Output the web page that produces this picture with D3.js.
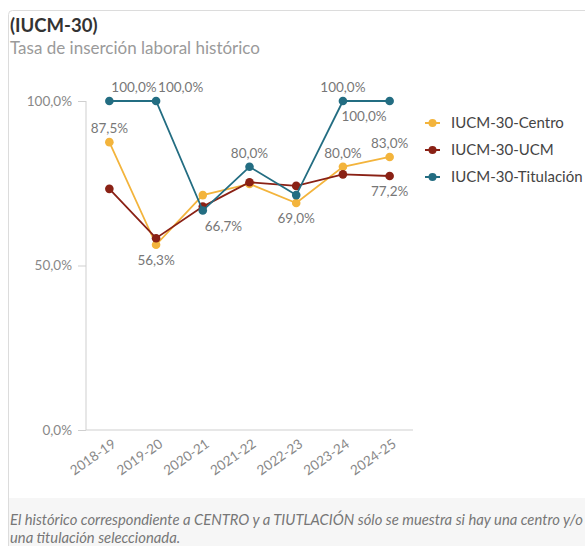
<!DOCTYPE html>
<html>
<head>
<meta charset="utf-8">
<script src="https://cdn.jsdelivr.net/npm/d3@7"></script>
<style>
  html, body { margin: 0; padding: 0; background: #fff; }
  svg { display: block; font-family: Lato, "Noto Sans", sans-serif; }
</style>
</head>
<body>
<svg id="chart" width="585" height="546"></svg>
<script>
// data
const years = ["2018-19", "2019-20", "2020-21", "2021-22", "2022-23", "2023-24", "2024-25"];
const centro = [87.5, 56.3, 71.4, 74.8, 69.0, 80.0, 83.0];
const ucm = [73.3, 58.3, 67.9, 75.3, 74.2, 77.7, 77.2];
const titulacion = [100, 100, 66.7, 80.0, 71.4, 100, 100];
const seriesNames = ["IUCM-30-Centro", "IUCM-30-UCM", "IUCM-30-Titulación"];
const yTicks = [0, 50, 100];

// which points carry a value label: [series, year index, side, anchor]
const valueLabels = [
  [0, 0, "above", "middle"],
  [2, 0, "above", "start"],
  [2, 1, "above", "start"],
  [0, 1, "below", "middle"],
  [2, 2, "below", "start"],
  [2, 3, "above", "middle"],
  [0, 4, "below", "middle"],
  [2, 5, "above", "middle"],
  [2, 6, "below", "end"],
  [0, 5, "above", "middle"],
  [0, 6, "above", "middle"],
  [1, 6, "below", "middle"]
];

const colors = ["#f3b43c", "#8a2115", "#236d82"];
const series = [centro, ucm, titulacion];

const svg = d3.select("#chart");

// card frame
svg.append("rect")
  .attr("x", 8.5).attr("y", 10.5)
  .attr("width", 600).attr("height", 560)
  .attr("rx", 4)
  .attr("fill", "#fff")
  .attr("stroke", "#dcdcdc");

// footer band
svg.append("rect")
  .attr("x", 9).attr("y", 498)
  .attr("width", 576).attr("height", 48)
  .attr("fill", "#f6f6f6");

// title
svg.append("text")
  .attr("x", 10).attr("y", 32)
  .attr("font-size", 18.5).attr("font-weight", 700)
  .attr("fill", "#333")
  .text("(IUCM-30)");

svg.append("text")
  .attr("x", 10).attr("y", 54)
  .attr("font-size", 17)
  .attr("fill", "#9a9a9a")
  .text("Tasa de inserción laboral histórico");

const x = d3.scalePoint().domain(years).range([86, 413]).padding(0.5);
const y = d3.scaleLinear().domain([0, 100]).range([430, 101]);

const fmt = (v) => d3.format(".1f")(v).replace(".", ",") + "%";

// y axis
const yAxis = svg.append("g")
  .attr("transform", "translate(86,0)")
  .call(d3.axisLeft(y).tickValues(yTicks).tickSize(8).tickPadding(6).tickFormat(fmt));
yAxis.select(".domain").attr("stroke", "#cfcfcf").attr("d", `M0,${y(100)}V${y(0)}`);
yAxis.selectAll(".tick line").attr("stroke", "#cfcfcf");
yAxis.selectAll(".tick text")
  .attr("fill", "#888").attr("font-size", 13.5).attr("font-family", "Lato, sans-serif");

// x axis
const xAxis = svg.append("g")
  .attr("transform", `translate(0,${y(0)})`)
  .call(d3.axisBottom(x).tickSize(0).tickPadding(0));
xAxis.select(".domain").attr("stroke", "#cfcfcf").attr("d", "M86,0H413");
xAxis.selectAll(".tick text")
  .attr("fill", "#888").attr("font-size", 13.5)
  .attr("font-family", "Lato, sans-serif")
  .attr("text-anchor", "end")
  .attr("dy", 0)
  .attr("transform", "translate(7,16) rotate(-35)");

// lines
const line = d3.line()
  .x((d, i) => x(years[i]))
  .y((d) => y(d));

series.forEach((values, s) => {
  svg.append("path")
    .datum(values)
    .attr("fill", "none")
    .attr("stroke", colors[s])
    .attr("stroke-width", 1.8)
    .attr("d", line);

  svg.selectAll(null)
    .data(values)
    .enter()
    .append("circle")
    .attr("cx", (d, i) => x(years[i]))
    .attr("cy", (d) => y(d))
    .attr("r", 4.3)
    .attr("fill", colors[s]);
});

// value labels
svg.append("g")
  .selectAll("text")
  .data(valueLabels)
  .enter()
  .append("text")
  .attr("x", (d) => x(years[d[1]]) + (d[3] === "start" ? 2 : d[3] === "end" ? -3 : 0))
  .attr("y", (d) => y(series[d[0]][d[1]]) + (d[2] === "above" ? -9 : 20))
  .attr("text-anchor", (d) => d[3])
  .attr("font-size", 13.5)
  .attr("fill", "#777")
  .text((d) => fmt(series[d[0]][d[1]]));

// legend
const legend = svg.append("g")
  .selectAll("g")
  .data(seriesNames)
  .enter()
  .append("g")
  .attr("transform", (d, i) => `translate(425,${123 + i * 27})`);

legend.append("line")
  .attr("x1", 0).attr("x2", 15)
  .attr("stroke", (d, i) => colors[i])
  .attr("stroke-width", 2);
legend.append("circle")
  .attr("cx", 7.5).attr("r", 4)
  .attr("fill", (d, i) => colors[i]);
legend.append("text")
  .attr("x", 26).attr("dy", "0.35em")
  .attr("font-size", 15)
  .attr("fill", "#444")
  .text((d) => d);

// footer note
const note = svg.append("text")
  .attr("font-size", 14.8)
  .attr("font-style", "italic")
  .attr("fill", "#777");
note.append("tspan").attr("x", 10).attr("y", 525)
  .text("El histórico correspondiente a CENTRO y a TIUTLACIÓN sólo se muestra si hay una centro y/o");
note.append("tspan").attr("x", 10).attr("y", 543)
  .text("una titulación seleccionada.");
</script>
</body>
</html>
